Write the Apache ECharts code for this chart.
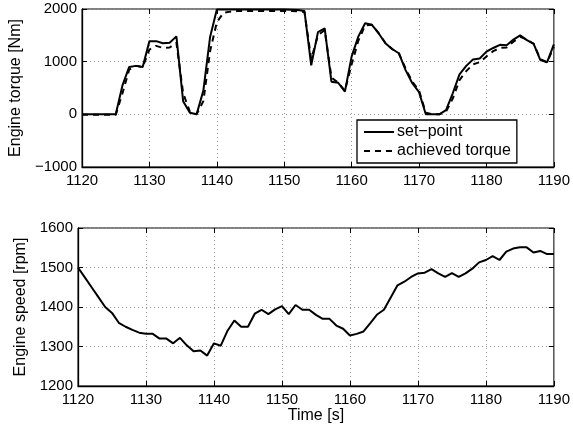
<!DOCTYPE html>
<html>
<head>
<meta charset="utf-8">
<script src="https://cdn.jsdelivr.net/npm/echarts@6/dist/echarts.min.js"></script>
<style>
  html, body { margin: 0; padding: 0; background: #fff; }
  #chart { width: 573px; height: 428px; }
</style>
</head>
<body>
<div id="chart"></div>
<script>
// Sample grid: one sample per second
const tStart = 1120;
const tEnd = 1190;

// Engine torque [Nm]
const torqueSetpoint = [
  0, 0, 0, 0, 0, 0, 550, 900, 920, 900,
  1390, 1390, 1350, 1360, 1480, 250, 30, 0, 450, 1470,
  1990, 1990, 1990, 1990, 1990, 1990, 1990, 1990, 1990, 1990,
  1990, 1985, 1980, 1960, 930, 1560, 1630, 620, 600, 430,
  1100, 1480, 1730, 1700, 1540, 1350, 1240, 1160, 840, 590,
  420, 0, 0, 0, 80, 400, 760, 920, 1040, 1060,
  1190, 1260, 1320, 1310, 1420, 1500, 1410, 1340, 1030, 990,
  1330
];
const torqueAchieved = [
  -10, -10, -10, -10, -10, -10, 400, 850, 920, 900,
  1230, 1300, 1260, 1270, 1360, 400, 50, 0, 250, 1200,
  1750, 1930, 1950, 1960, 1960, 1960, 1960, 1960, 1960, 1960,
  1960, 1960, 1955, 1940, 1050, 1500, 1600, 700, 600, 450,
  950, 1400, 1690, 1700, 1540, 1360, 1240, 1160, 870, 620,
  450, 30, 0, 0, 50, 300, 650, 820, 950, 990,
  1100, 1200, 1260, 1270, 1380, 1470, 1420, 1340, 1050, 990,
  1280
];

// Engine speed [rpm]
const engineSpeed = [
  1500, 1475, 1450, 1425, 1400, 1385, 1360, 1350, 1342, 1335,
  1332, 1332, 1320, 1320, 1308, 1322, 1303, 1288, 1290, 1277,
  1308, 1302, 1340, 1366, 1350, 1350, 1383, 1393, 1382, 1394,
  1402, 1382, 1405, 1393, 1393, 1380, 1370, 1370, 1353, 1345,
  1328, 1332, 1338, 1359, 1381, 1393, 1424, 1455, 1464, 1476,
  1485, 1487, 1496, 1485, 1476, 1486, 1476, 1485, 1497, 1513,
  1519, 1529, 1519, 1540, 1548, 1551, 1551, 1538, 1542, 1534,
  1534
];

const xTicks = [1120, 1130, 1140, 1150, 1160, 1170, 1180, 1190];
const torqueTicks = [-1000, 0, 1000, 2000];
const speedTicks = [1200, 1300, 1400, 1500, 1600];

const time = [];
for (let t = tStart; t <= tEnd; t++) time.push(t);
const pairs = (ys) => time.map((t, i) => [t, ys[i]]);

const FONT = 'Liberation Sans, Arial, Helvetica, sans-serif';
const plain = (v) => String(v).replace('-', '\u2212');

const grid = (top) => ({
  left: 78, right: 18, top: top, height: 158,
  show: true, borderColor: '#000', borderWidth: 1, backgroundColor: 'transparent'
});

const tickStyle = { show: true, inside: true, length: 5, lineStyle: { color: '#000', width: 1 } };
const splitStyle = { show: true, lineStyle: { color: '#9a9a9a', width: 1, type: [1, 3] } };

function xAxes(gridIndex, withName) {
  return [
    {
      type: 'value', gridIndex, min: xTicks[0], max: xTicks[xTicks.length - 1], interval: 10,
      axisLine: { show: true, onZero: false, lineStyle: { color: '#000', width: 1.3 } },
      axisTick: tickStyle,
      axisLabel: { color: '#000', fontSize: 15, fontFamily: FONT, margin: 6, formatter: plain },
      splitLine: splitStyle,
      name: withName ? 'Time [s]' : '',
      nameLocation: 'middle', nameGap: 20,
      nameTextStyle: { color: '#000', fontSize: 16, fontFamily: FONT }
    },
    {
      type: 'value', gridIndex, position: 'top', min: xTicks[0], max: xTicks[xTicks.length - 1], interval: 10,
      axisLine: { show: false, onZero: false }, axisTick: tickStyle, axisLabel: { show: false }, splitLine: { show: false }
    }
  ];
}

function yAxes(gridIndex, ticks, name, nameGap) {
  const step = ticks[1] - ticks[0];
  return [
    {
      type: 'value', gridIndex, min: ticks[0], max: ticks[ticks.length - 1], interval: step,
      axisLine: { show: true, onZero: false, lineStyle: { color: '#000', width: 1.3 } },
      axisTick: tickStyle,
      axisLabel: { color: '#000', fontSize: 15, fontFamily: FONT, margin: 5, formatter: plain },
      splitLine: splitStyle,
      name: name, nameLocation: 'middle', nameGap: nameGap,
      nameTextStyle: { color: '#000', fontSize: 16, fontFamily: FONT }
    },
    {
      type: 'value', gridIndex, position: 'right', min: ticks[0], max: ticks[ticks.length - 1], interval: step,
      axisLine: { show: false, onZero: false }, axisTick: tickStyle, axisLabel: { show: false }, splitLine: { show: false }
    }
  ];
}

const chart = echarts.init(document.getElementById('chart'), null, { renderer: 'canvas' });
chart.setOption({
  animation: false,
  backgroundColor: '#fff',
  textStyle: { fontFamily: FONT },
  grid: [grid(9), grid(228)],
  xAxis: [...xAxes(0, false), ...xAxes(1, true)],
  yAxis: [
    ...yAxes(0, torqueTicks, 'Engine torque [Nm]', 46),
    ...yAxes(1, speedTicks, 'Engine speed [rpm]', 46)
  ],
  legend: {
    orient: 'vertical',
    left: 357, top: 120,
    itemWidth: 30, itemHeight: 15, itemGap: 3,
    padding: [4, 6, 4, 6],
    backgroundColor: '#fff',
    borderColor: '#000', borderWidth: 1.3, borderRadius: 0,
    itemStyle: { opacity: 0 },
    textStyle: { color: '#000', fontSize: 16, fontFamily: FONT, padding: [0, 0, 0, -2] },
    data: ['set\u2212point', 'achieved torque']
  },
  series: [
    {
      name: 'set\u2212point', type: 'line', xAxisIndex: 0, yAxisIndex: 0,
      data: pairs(torqueSetpoint), showSymbol: false, symbol: 'none',
      lineStyle: { color: '#000', width: 2 }, itemStyle: { color: '#000' }, z: 3
    },
    {
      name: 'achieved torque', type: 'line', xAxisIndex: 0, yAxisIndex: 0,
      data: pairs(torqueAchieved), showSymbol: false, symbol: 'none',
      lineStyle: { color: '#000', width: 2, type: [6, 5] }, itemStyle: { color: '#000' }, z: 2
    },
    {
      name: 'Engine speed', type: 'line', xAxisIndex: 2, yAxisIndex: 2,
      data: pairs(engineSpeed), showSymbol: false, symbol: 'none',
      lineStyle: { color: '#000', width: 2 }, itemStyle: { color: '#000' }
    }
  ]
});
</script>
</body>
</html>
